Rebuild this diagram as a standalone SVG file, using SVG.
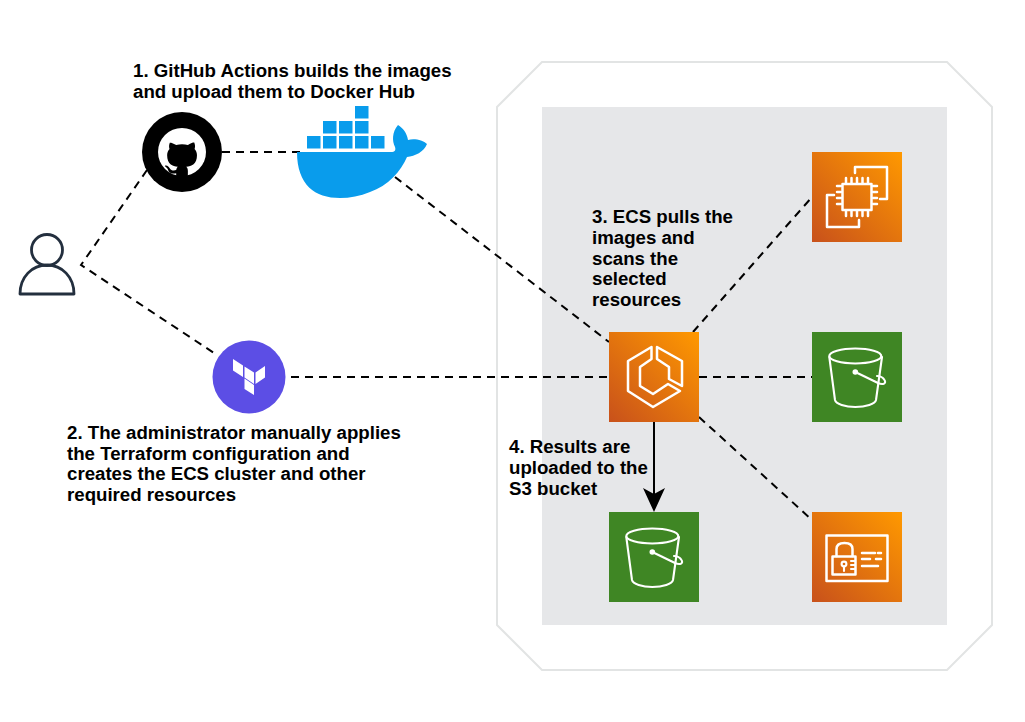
<svg xmlns="http://www.w3.org/2000/svg" xmlns:xlink="http://www.w3.org/1999/xlink" width="1025" height="722" viewBox="0 0 1025 722">
<style>
text{font-family:"Liberation Sans",Arial,sans-serif;font-weight:700;font-size:18.67px;fill:#000}
.dash{fill:none;stroke:#000;stroke-width:2;stroke-dasharray:8 6}
.ico{fill:none;stroke:#fff;stroke-width:2.500;stroke-linejoin:round;stroke-linecap:round}
.thin{fill:none;stroke:#fff;stroke-width:2.100;stroke-linejoin:round;stroke-linecap:round}
.whale{fill:#099cec}
</style>
<defs>
<linearGradient id="orange" x1="0" y1="1" x2="1" y2="0"><stop offset="0" stop-color="#c8511b"/><stop offset="1" stop-color="#f90"/></linearGradient>
<g id="bucket">
<rect x="0" y="0" width="90" height="90" fill="#3f8624"/>
<ellipse cx="43.300" cy="24" rx="26" ry="7.500" class="thin"/>
<path class="thin" d="M17.300 25 L23 68 C24 72 33 75 43.300 75 C54 75 63 72 64 68 L70 25"/>
<path class="thin" d="M43.300 40 L66 51 C71.500 53.500 74.500 51 72.500 48 C71 45.500 67.500 44 65 44"/>
<circle cx="43.300" cy="40" r="2.800" fill="#fff"/>
</g>
</defs>
<rect width="1025" height="722" fill="#fff"/>
<g id="region">
<path d="M542 62H947L992 107V625L947 670H542L497 625V107Z" fill="#fff" stroke="#e2e4e4" stroke-width="2"/>
<rect x="542" y="107" width="405" height="518" fill="#e6e7e9"/>
</g>
<g id="connectors">
<path class="dash" d="M147 170L81 265L217 355"/>
<path class="dash" d="M222 152H300"/>
<path class="dash" d="M395 177L609 342"/>
<path class="dash" d="M291 377H609"/>
<path class="dash" d="M693 332L812 197"/>
<path class="dash" d="M699 377H812"/>
<path class="dash" d="M699 417L812 520"/>
<path d="M654 422V496" fill="none" stroke="#000" stroke-width="2"/>
<path d="M654 512L643 488L654 494L665 488Z" fill="#000"/>
</g>
<g id="user">
<circle cx="47" cy="250" r="15.500" fill="none" stroke="#232f3e" stroke-width="2.800"/>
<path d="M20 294C20 277 32 265 47 265C62 265 74 277 74 294Z" fill="none" stroke="#232f3e" stroke-width="2.800" stroke-linejoin="round"/>
</g>
<g id="github">
<circle cx="182" cy="152" r="40" fill="#000"/>
<circle cx="182" cy="152" r="24" fill="#fff"/>
<path transform="translate(158.600 133) scale(2.925)" fill="#000" d="M6.020 15.210c0-.19-.01-.82-.01-1.490-2.010.37-2.530-.49-2.690-.94-.09-.23-.48-.94-.82-1.130-.28-.15-.68-.52-.01-.53.63-.01 1.080.58 1.230.82.72 1.210 1.870.87 2.330.66.07-.52.28-.87.51-1.070-1.780-.2-3.640-.89-3.640-3.950 0-.87.31-1.590.82-2.150-.08-.2-.36-1.020.08-2.120 0 0 .67-.21 2.200.82.64-.18 1.320-.27 2-.27.68 0 1.360.09 2 .27 1.530-1.040 2.200-.82 2.200-.82.44 1.100.16 1.920.08 2.120.51.56.82 1.270.82 2.150 0 3.070-1.870 3.750-3.650 3.950.29.25.54.73.54 1.480 0 1.070-.01 1.930-.01 2.200z"/>
<path d="M176 181H188V176H176Z" fill="#000"/>
</g>
<g id="docker" class="whale">
<rect x="307" y="136" width="13.500" height="12.500"/>
<rect x="323" y="136" width="13.500" height="12.500"/>
<rect x="339" y="136" width="13.500" height="12.500"/>
<rect x="355" y="136" width="13.500" height="12.500"/>
<rect x="371" y="136" width="13.500" height="12.500"/>
<rect x="323" y="121" width="13.500" height="12.500"/>
<rect x="339" y="121" width="13.500" height="12.500"/>
<rect x="355" y="121" width="13.500" height="12.500"/>
<rect x="355" y="106" width="13.500" height="12.500"/>
<path d="M297 152H391C395 152 396 150 395 147C392 141 392 132 398 125C403 128 407 133 408 140C414 138 423 140 427 144C424 152 415 156 407 157C401 171 388 186 370 192C360 196 350 198 340 198C315 198 297 185 297 152Z"/>
</g>
<g id="terraform">
<circle cx="249" cy="377" r="36.500" fill="#5c4ee5"/>
<path fill="#fff" d="M233 359L243 365.500V377L233 370.500ZM244.500 366.500L254 372.500V384L244.500 377.500ZM255.500 372.500L265 366V377.500L255.500 384ZM244.500 378.500L254 385V395L244.500 389Z"/>
</g>
<g id="ecs">
<rect x="609" y="332" width="90" height="90" fill="url(#orange)"/>
<path class="ico" d="M651.500 347L628 361V391L653 407L680 391L668 384L653 394L640 386V367L651.500 359Z"/>
<path class="ico" d="M657 347L682 361V386L669 379V367L657 359Z"/>
</g>
<g id="ec2">
<rect x="812" y="152" width="90" height="90" fill="url(#orange)"/>
<path class="ico" d="M855 173V167H887V199H880M834 195H827V227H859V220"/>
<rect x="842.500" y="184" width="29" height="26" class="ico"/>
<path class="ico" d="M846 178V183M851.500 178V183M857 178V183M862.500 178V183M868 178V183M846 211V216M851.500 211V216M857 211V216M862.500 211V216M868 211V216M837 186H841M837 192H841M837 198H841M837 204H841M873 186H877M873 192H877M873 198H877M873 204H877"/>
</g>
<g id="s3-target"><use xlink:href="#bucket" href="#bucket" x="812" y="332"/></g>
<g id="s3-results"><use xlink:href="#bucket" href="#bucket" x="609" y="512"/></g>
<g id="iam">
<rect x="812" y="512" width="90" height="90" fill="url(#orange)"/>
<rect x="826.500" y="535.500" width="61" height="45.500" class="ico"/>
<rect x="832.500" y="556.500" width="23" height="18" class="ico"/>
<path class="ico" d="M836.500 556V549C836.500 545 839 543 844.500 543C850 543 852.500 545 852.500 549V556"/>
<circle cx="844" cy="564" r="2.400" class="thin"/>
<path class="thin" d="M844 566.500V571M851 561H855M851 565H855M851 569H855"/>
<path class="ico" d="M862 553H875M878 553H881M862 559H870M876 559H881M862 566H878"/>
</g>
<g id="labels">
<text x="133" y="77">1. GitHub Actions builds the images</text>
<text x="133" y="98">and upload them to Docker Hub</text>
<text x="67" y="439">2. The administrator manually applies</text>
<text x="67" y="460">the Terraform configuration and</text>
<text x="67" y="480">creates the ECS cluster and other</text>
<text x="67" y="501">required resources</text>
<text x="592" y="223">3. ECS pulls the</text>
<text x="592" y="244">images and</text>
<text x="592" y="265">scans the</text>
<text x="592" y="285">selected</text>
<text x="592" y="306">resources</text>
<text x="509" y="453">4. Results are</text>
<text x="509" y="474">uploaded to the</text>
<text x="509" y="495">S3 bucket</text>
</g>
</svg>
